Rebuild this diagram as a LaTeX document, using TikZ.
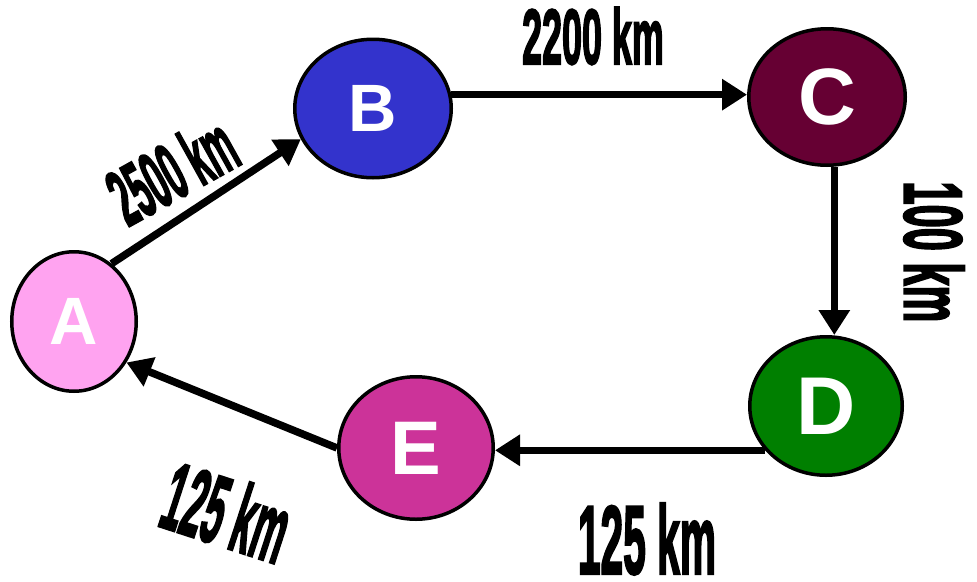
\documentclass[tikz,border=0pt]{standalone}
\usepackage{fontspec}
\setmainfont{Liberation Sans}
\newfontfamily\lblfont{Liberation Sans Bold}[FakeBold=3]
\usetikzlibrary{shapes.geometric,arrows.meta}
\definecolor{cA}{HTML}{FFA3F0}
\definecolor{cB}{HTML}{3333CC}
\definecolor{cC}{HTML}{660033}
\definecolor{cD}{HTML}{007F00}
\definecolor{cE}{HTML}{CC3399}
\newcommand{\lbltxt}[3]{\scalebox{#1}[1]{\fontsize{#2pt}{#2pt}\lblfont #3}}
\begin{document}
\begin{tikzpicture}[x=1pt,y=-1pt,
  city/.style={ellipse, draw=black, line width=3.5pt, inner sep=0pt, text=white},
  arr/.style={line width=7.5pt, -{Triangle[length=25pt,width=30pt]}},
  lbl/.style={inner sep=0pt, text=black}]
\useasboundingbox (0,0) rectangle (977,581);
\node[city, fill=cA, minimum width=124.5pt, minimum height=139.5pt, font=\fontsize{67pt}{67pt}\selectfont\bfseries] (A) at (74,321.5) {A};
\node[city, fill=cB, minimum width=156.5pt, minimum height=138.5pt, font=\fontsize{67pt}{67pt}\selectfont\bfseries] (B) at (373,108.5) {B};
\node[city, fill=cC, minimum width=156.5pt, minimum height=136.5pt, font=\fontsize{80pt}{80pt}\selectfont\bfseries] (C) at (827,97) {C};
\node[city, fill=cD, minimum width=152.5pt, minimum height=138.5pt, font=\fontsize{82pt}{82pt}\selectfont\bfseries] (D) at (826,406) {D};
\node[city, fill=cE, minimum width=154.5pt, minimum height=142.5pt, font=\fontsize{76pt}{76pt}\selectfont\bfseries] (E) at (416,448) {E};
\draw[arr] (A.57) -- (B.203);
\draw[arr] (B.10) -- (B.10 -| C.west);
\draw[arr] (C.-84) -- (C.-84 |- D.north);
\draw[arr] (D.216) -- (D.216 -| E.east);
\draw[arr] (E.west) -- (A.-38);
\node[lbl, rotate=29] (l1) at (172,170) {\lbltxt{0.42}{80}{2500 km}};
\node[lbl] (l2) at (593,36) {\lbltxt{0.46}{78}{2200 km}};
\node[lbl, rotate=-90] (l3) at (934,252) {\lbltxt{0.507}{82}{100 km}};
\node[lbl] (l4) at (647,539) {\lbltxt{0.42}{97}{125 km}};
\node[lbl, rotate=-18] (l5) at (227,512) {\lbltxt{0.39}{96}{125 km}};
\end{tikzpicture}
\end{document}
